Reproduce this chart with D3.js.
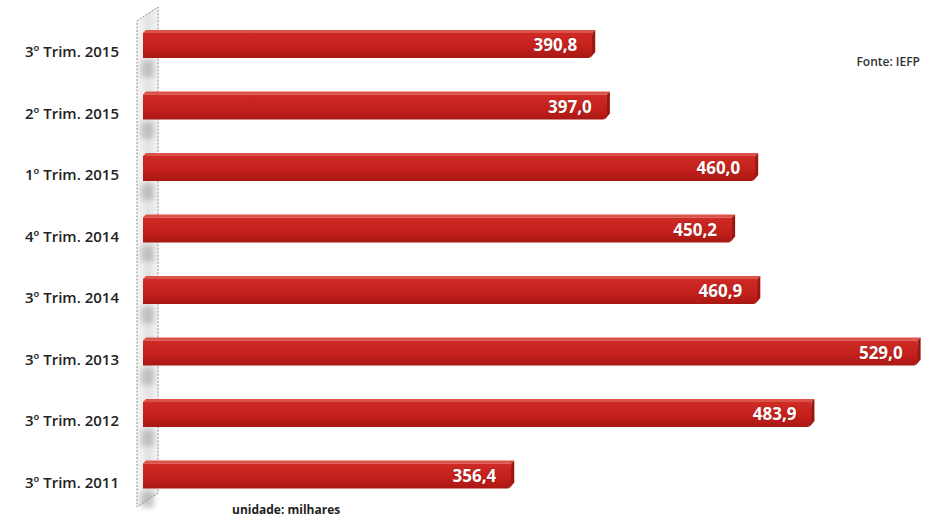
<!DOCTYPE html>
<html>
<head>
<meta charset="utf-8">
<script src="https://cdn.jsdelivr.net/npm/d3@7"></script>
<style>
  body { margin: 0; background: #fff; }
  svg { display: block; }
</style>
</head>
<body>
<script>
// data (top to bottom)
const categories = ["3º Trim. 2015", "2º Trim. 2015", "1º Trim. 2015", "4º Trim. 2014",
                    "3º Trim. 2014", "3º Trim. 2013", "3º Trim. 2012", "3º Trim. 2011"];
const values = [390.8, 397.0, 460.0, 450.2, 460.9, 529.0, 483.9, 356.4];
const sourceText = "Fonte: IEFP";
const unitText = "unidade: milhares";

const width = 943, height = 520;

const svg = d3.select("body").append("svg")
  .attr("width", width).attr("height", height);

const defs = svg.append("defs");

// bar face gradient
const g1 = defs.append("linearGradient").attr("id", "barFace")
  .attr("x1", 0).attr("y1", 0).attr("x2", 0).attr("y2", 1);
g1.append("stop").attr("offset", "0%").attr("stop-color", "#cf2b25");
g1.append("stop").attr("offset", "60%").attr("stop-color", "#c21f1b");
g1.append("stop").attr("offset", "100%").attr("stop-color", "#a81814");

// wall gradient
const g2 = defs.append("linearGradient").attr("id", "wallFace")
  .attr("x1", 0).attr("y1", 0).attr("x2", 1).attr("y2", 0);
g2.append("stop").attr("offset", "0%").attr("stop-color", "#f6f6f6");
g2.append("stop").attr("offset", "55%").attr("stop-color", "#e2e2e2");
g2.append("stop").attr("offset", "100%").attr("stop-color", "#f4f4f4");

defs.append("filter").attr("id", "soft")
  .attr("x", "-50%").attr("y", "-50%").attr("width", "200%").attr("height", "200%")
  .append("feGaussianBlur").attr("stdDeviation", 2.5);

const x = d3.scaleLinear().domain([200, 530]).range([143, 920]);

const y = d3.scaleBand().domain(categories)
  .range([13.25, 505.25])
  .paddingInner(0.545)
  .paddingOuter(0.2725);

const fmt = d3.formatLocale({decimal: ",", thousands: ".", grouping: [3], currency: ["", "€"]}).format(".1f");

// back wall (slanted 3D axis)
const wallX0 = 137, wallX1 = 158, dz = 14;
svg.append("path")
  .attr("d", `M${wallX0},21 L${wallX1},${21 - dz} L${wallX1},${507 - dz} L${wallX0},507 Z`)
  .attr("fill", "url(#wallFace)");

// soft shadows on the wall below each bar
svg.append("g").selectAll("rect")
  .data(categories)
  .join("rect")
  .attr("x", wallX0 + 4)
  .attr("y", d => y(d) + y.bandwidth() + 3)
  .attr("width", wallX1 - wallX0 - 8)
  .attr("height", 16)
  .attr("fill", "#a8a8a8")
  .attr("opacity", 0.6)
  .attr("filter", "url(#soft)");

svg.append("path")
  .attr("d", `M${wallX0},21 L${wallX1},${21 - dz} L${wallX1},${507 - dz} L${wallX0},507 Z`)
  .attr("fill", "none")
  .attr("stroke", "#8c8c8c")
  .attr("stroke-width", 1)
  .attr("stroke-dasharray", "2,1.5");

// bars
const bars = svg.append("g").selectAll("g")
  .data(values)
  .join("g");

const depth = 3;
// top face
bars.append("path")
  .attr("d", (d, i) => {
    const y0 = y(categories[i]), x1 = x(d);
    return `M${x(200)},${y0 + depth} L${x(200) + depth},${y0} L${x1 + depth},${y0} L${x1},${y0 + depth} Z`;
  })
  .attr("fill", "#dc5248");

// right side face with bevelled bottom corner
bars.append("path")
  .attr("d", (d, i) => {
    const y0 = y(categories[i]), h = y.bandwidth(), x1 = x(d);
    return `M${x1},${y0 + depth} L${x1 + depth},${y0} L${x1 + depth},${y0 + h - 6} L${x1 - 2},${y0 + h} Z`;
  })
  .attr("fill", "#9a1612");

// front face
bars.append("path")
  .attr("d", (d, i) => {
    const y0 = y(categories[i]) + depth, h = y.bandwidth() - depth, x1 = x(d);
    return `M${x(200)},${y0} L${x1},${y0} L${x1},${y0 + h - 4} L${x1 - 3},${y0 + h} L${x(200)},${y0 + h} Z`;
  })
  .attr("fill", "url(#barFace)");

// value labels
bars.append("text")
  .attr("x", d => x(d) - 15)
  .attr("y", (d, i) => y(categories[i]) + y.bandwidth() / 2 + 7)
  .attr("text-anchor", "end")
  .attr("font-family", "'Open Sans', sans-serif")
  .attr("font-weight", 700)
  .attr("font-size", 17)
  .attr("fill", "#fff")
  .style("paint-order", "stroke")
  .attr("stroke", "#8a1410")
  .attr("stroke-width", 0.6)
  .text(d => fmt(d));

// category labels
svg.append("g").selectAll("text")
  .data(categories)
  .join("text")
  .attr("x", 119)
  .attr("y", d => y(d) + y.bandwidth() / 2 + 13)
  .attr("text-anchor", "end")
  .attr("font-family", "'Open Sans', sans-serif")
  .attr("font-weight", 600)
  .attr("font-size", 15)
  .attr("fill", "#222")
  .text(d => d);

svg.append("text")
  .attr("x", 920).attr("y", 66)
  .attr("text-anchor", "end")
  .attr("font-family", "'Open Sans', sans-serif")
  .attr("font-weight", 600)
  .attr("font-size", 12)
  .attr("fill", "#333")
  .text(sourceText);

svg.append("text")
  .attr("x", 232).attr("y", 514)
  .attr("font-family", "'Open Sans', sans-serif")
  .attr("font-weight", 700)
  .attr("font-size", 12)
  .attr("fill", "#222")
  .text(unitText);
</script>
</body>
</html>
